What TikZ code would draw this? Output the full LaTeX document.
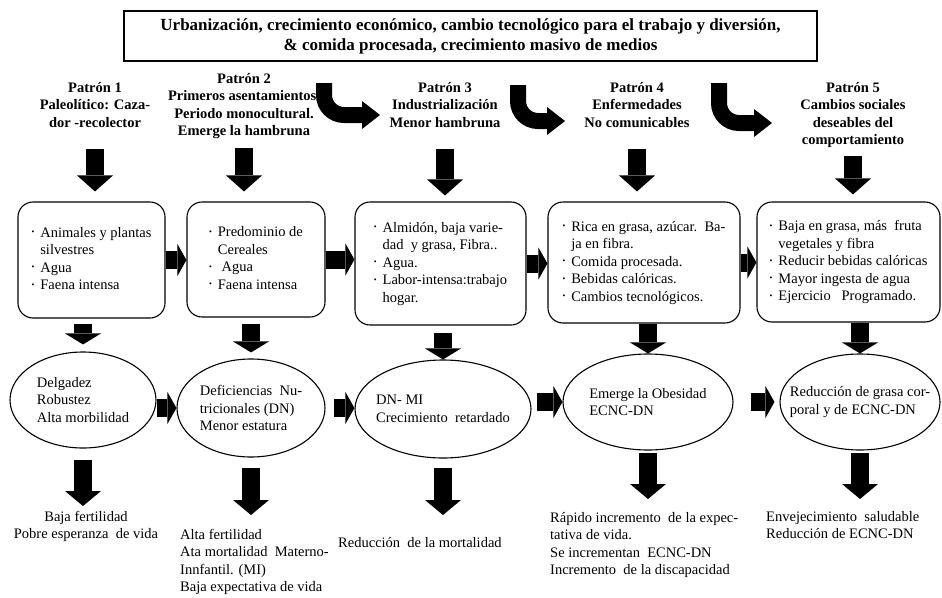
\documentclass[tikz,border=0pt]{standalone}
\usepackage{fontspec}
\setmainfont{Liberation Serif}
\usetikzlibrary{arrows.meta,shapes.geometric}

\newcommand{\bul}{\raisebox{2.5pt}{\fontsize{8}{8}\selectfont\textbullet}}

\tikzset{
  txt/.style={font=\fontsize{14.5}{17.5}\selectfont, inner sep=0pt},
  hdr/.style={font=\bfseries\fontsize{14.5}{17.5}\selectfont, inner sep=0pt, align=center, anchor=north},
  box/.style={txt, draw, line width=1.1pt, rounded corners=15pt},
  ell/.style={txt, draw, ellipse, line width=1.1pt, align=left, inner xsep=-60pt, inner ysep=-40pt},
  blkv/.style={line width=18pt, -{Triangle[length=#1, width=36pt, line width=0pt]}},
  blkv/.default=16pt,
  blkh/.style={line width=18pt, -{Triangle[length=9pt, width=32pt, line width=0pt]}},
  bendarr/.style={line width=16pt, -{Triangle[length=18pt, width=28pt, line width=0pt]}},
}

\begin{document}
\begin{tikzpicture}[x=1pt, y=-1pt]
\useasboundingbox (0,0) rectangle (942,597);

% top banner
\node[draw, line width=1.2pt, minimum width=693pt, minimum height=50pt,
  font=\bfseries\fontsize{17}{20}\selectfont, align=center] (top) at (470.5,36)
  {Urbanización, crecimiento económico, cambio tecnológico para el trabajo y diversión,\\
   \& comida procesada, crecimiento masivo de medios};

% patterns
\node[hdr] (hdr1) at (95,82) {Patrón 1\\Paleolítico: Caza-\\dor -recolector};
\node[hdr] (hdr2) at (244,73) {Patrón 2\\Primeros asentamientos.\\Periodo monocultural.\\Emerge la hambruna};
\node[hdr] (hdr3) at (445,82) {Patrón 3\\Industrialización\\Menor hambruna};
\node[hdr] (hdr4) at (637,82) {Patrón 4\\Enfermedades\\No comunicables};
\node[hdr] (hdr5) at (853,82) {Patrón 5\\Cambios sociales\\deseables del\\comportamiento};

% bent arrows between patterns
\coordinate (k1) at (324,83);  \coordinate (t1) at (380,115);
\coordinate (k2) at (518,85);  \coordinate (t2) at (565,121);
\coordinate (k3) at (719,83);  \coordinate (t3) at (772,123);
\draw[bendarr] (k1) -- ++(0,12) to[out=-90,in=180] ++(20,20) -- (t1);
\draw[bendarr] (k2) -- ++(0,16) to[out=-90,in=180] ++(20,20) -- (t2);
\draw[bendarr] (k3) -- ++(0,20) to[out=-90,in=180] ++(20,20) -- (t3);

% diets
\node[box, minimum width=147pt, minimum height=116pt] (box1) at (91.5,260)
  {\begin{tabular}{@{}l@{\hspace{6pt}}l@{}}\bul & Animales y plantas\\ & silvestres\\ \bul & Agua\\ \bul & Faena intensa\end{tabular}};
\node[box, minimum width=138pt, minimum height=115pt] (box2) at (256,259.5)
  {\begin{tabular}{@{}l@{\hspace{6pt}}l@{}}\bul & Predominio de\\ & Cereales\\ \bul & \ Agua\\ \bul & Faena intensa\end{tabular}};
\node[box, minimum width=171pt, minimum height=123pt] (box3) at (440.5,263.5)
  {\begin{tabular}{@{}l@{\hspace{6pt}}l@{}}\bul & Almidón, baja varie-\\ & dad\ \ y grasa, Fibra..\\ \bul & Agua.\\ \bul & Labor-intensa:trabajo\\ & hogar.\end{tabular}};
\node[box, minimum width=192pt, minimum height=121pt] (box4) at (644,262.5)
  {\begin{tabular}{@{}l@{\hspace{6pt}}l@{}}\bul & Rica en grasa, azúcar.\ \ Ba-\\ & ja en fibra.\\ \bul & Comida procesada.\\ \bul & Bebidas calóricas.\\ \bul & Cambios tecnológicos.\end{tabular}};
\node[box, minimum width=183pt, minimum height=120pt] (box5) at (848.5,262)
  {\begin{tabular}{@{}l@{\hspace{6pt}}l@{}}\bul & Baja en grasa, más\ \ fruta\\ & vegetales y fibra\\ \bul & Reducir bebidas calóricas\\ \bul & Mayor ingesta de agua\\ \bul & Ejercicio\ \ \ Programado.\end{tabular}};

% outcomes
\node[ell, minimum width=146pt, minimum height=96pt] (ell1) at (83,400) {Delgadez\\Robustez\\Alta morbilidad};
\node[ell, minimum width=148pt, minimum height=98pt] (ell2) at (251,408) {Deficiencias\ \ Nu-\\tricionales (DN)\\Menor estatura};
\node[ell, minimum width=176pt, minimum height=98pt] (ell3) at (443,409) {DN- MI\\Crecimiento\ \ retardado};
\node[ell, minimum width=170pt, minimum height=96pt] (ell4) at (648,402) {Emerge la Obesidad\\ECNC-DN};
\node[ell, minimum width=160pt, minimum height=96pt] (ell5) at (860,402) {Reducción de grasa cor-\\poral y de ECNC-DN};

% consequences
\node[txt, align=center, anchor=north] (b1) at (86,511) {Baja fertilidad\\Pobre esperanza\ \ de vida};
\node[txt, align=left, anchor=north west] (b2) at (180,529) {Alta fertilidad\\Ata mortalidad\ \ Materno-\\Innfantil. (MI)\\Baja expectativa de vida};
\node[txt, anchor=north west] (b3) at (338,537) {Reducción\ \ de la mortalidad};
\node[txt, align=left, anchor=north west] (b4) at (550,512) {Rápido incremento\ \ de la expec-\\tativa de vida.\\Se incrementan\ \ ECNC-DN\\Incremento\ \ de la discapacidad};
\node[txt, align=left, anchor=north west] (b5) at (766,511) {Envejecimiento\ \ saludable\\Reducción de ECNC-DN};

% arrows down
\draw[blkv, shorten <=21pt, shorten >=10pt] (hdr1.south) -- (hdr1.south |- box1.north);
\draw[blkv, shorten <=9pt, shorten >=10pt] (hdr2.south) -- (hdr2.south |- box2.north);
\draw[blkv, shorten <=21pt, shorten >=6pt] (hdr3.south) -- (hdr3.south |- box3.north);
\draw[blkv, shorten <=21pt, shorten >=10pt] (hdr4.south) -- (hdr4.south |- box4.north);
\draw[blkv, shorten <=8pt, shorten >=7pt] (hdr5.south) -- (hdr5.south |- box5.north);

\draw[blkv=11pt, shorten <=5pt, shorten >=7pt] (ell1.north |- box1.south) -- (ell1.north);
\draw[blkv=11pt, shorten <=6pt, shorten >=6pt] (ell2.north |- box2.south) -- (ell2.north);
\draw[blkv=11pt, shorten <=7pt] (ell3.north |- box3.south) -- (ell3.north);
\draw[blkv=11pt] (ell4.north |- box4.south) -- (ell4.north);
\draw[blkv=11pt] (ell5.north |- box5.south) -- (ell5.north);

\draw[blkv=15pt, shorten <=11pt, shorten >=5pt] (ell1.south) -- (ell1.south |- b1.north);
\draw[blkv=15pt, shorten <=10pt, shorten >=14pt] (ell2.south) -- (ell2.south |- b2.north);
\draw[blkv=15pt, shorten <=9pt, shorten >=22pt] (ell3.south) -- (ell3.south |- b3.north);
\draw[blkv=15pt, shorten <=2pt, shorten >=13pt] (ell4.south) -- (ell4.south |- b4.north);
\draw[blkv=15pt, shorten <=2pt, shorten >=12pt] (ell5.south) -- (ell5.south |- b5.north);

% arrows across
\draw[blkh] (box1.east) -- (box1.east -| box2.west);
\draw[blkh] (box2.east) -- (box2.east -| box3.west);
\draw[blkh] (box3.east) -- (box3.east -| box4.west);
\draw[blkh] (box4.east) -- (box4.east -| box5.west);

\draw[blkh] (ell1.east |- ell2.west) -- (ell2.west);
\draw[blkh, shorten <=8pt] (ell2.east) -- (ell2.east -| ell3.west);
\draw[blkh, shorten <=5pt] (ell3.east |- ell4.west) -- (ell4.west);
\draw[blkh, shorten <=17pt, shorten >=5pt] (ell4.east) -- (ell4.east -| ell5.west);
\end{tikzpicture}
\end{document}
